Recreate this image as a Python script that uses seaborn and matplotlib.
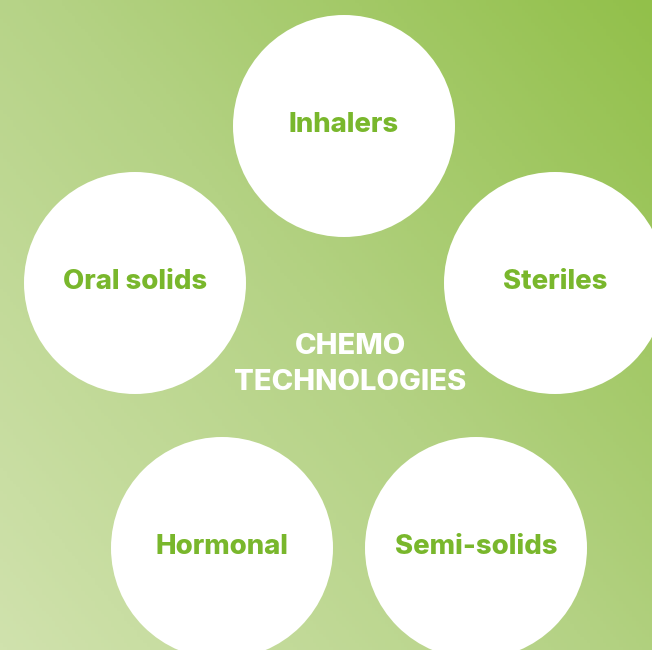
import numpy as np
import pandas as pd
import seaborn as sns
import matplotlib.pyplot as plt
from matplotlib.colors import LinearSegmentedColormap

# circle labels and centres (pixel coords of the original picture)
labels = ['Inhalers', 'Oral solids', 'Steriles', 'Hormonal', 'Semi-solids']
x_pos = [344, 135, 555, 222, 476]
y_pos = [126, 283, 283, 548, 548]
centre_lines = ['CHEMO', 'TECHNOLOGIES']

W, H = 652, 650
green = '#79b72c'

sns.set_theme(style='white')
plt.rcParams['font.family'] = ['Inter', 'DejaVu Sans']

fig = plt.figure(figsize=(W / 100, H / 100), dpi=100)
ax = fig.add_axes([0, 0, 1, 1])

# background gradient, light at bottom left, darker at top right
gx, gy = np.meshgrid(np.linspace(0, 1, 200), np.linspace(0, 1, 200))
grad = 0.55 * gx + 0.45 * (1 - gy)
cmap = LinearSegmentedColormap.from_list('bg', ['#d0e2ad', '#b4d284', '#92c04a'])
ax.imshow(grad, cmap=cmap, extent=[0, W, H, 0], aspect='auto', zorder=0)

df = pd.DataFrame({'label': labels, 'x': x_pos, 'y': y_pos})
diam = 2 * 111 * 72 / 100
sns.scatterplot(data=df, x='x', y='y', s=diam ** 2, color='white',
                edgecolor='none', linewidth=0, ax=ax, zorder=2, legend=False)

for _, r in df.iterrows():
    ax.text(r['x'], r['y'] - 1, r['label'], color=green, fontsize=19.8,
            fontweight='heavy', ha='center', va='center', zorder=3)

ax.text(350, 346, centre_lines[0], color='white', fontsize=21,
        fontweight='heavy', ha='center', va='center', zorder=3)
ax.text(350, 382, centre_lines[1], color='white', fontsize=21,
        fontweight='heavy', ha='center', va='center', zorder=3)

ax.set_xlim(0, W)
ax.set_ylim(H, 0)
ax.axis('off')

plt.savefig('out.png', dpi=100)
